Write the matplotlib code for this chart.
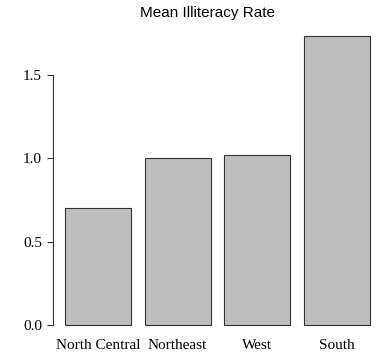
import numpy as np
import matplotlib
matplotlib.use("Agg")
import matplotlib.pyplot as plt

# mean illiteracy per region
regions = ["North Central", "Northeast", "West", "South"]
illiteracy = [0.70, 1.00, 1.0231, 1.7375]
yticks = [0.0, 0.5, 1.0, 1.5]

fig = plt.figure(figsize=(3.91, 3.61), dpi=100)
ax = fig.add_axes([0.135, 0.0676, 0.842, 0.866])

# R style barplot: width 1, space 0.2
x = 0.2 + np.arange(len(regions)) * 1.2 + 0.5
ax.bar(x, illiteracy, width=1.0, color="#bebebe", edgecolor="#333333", linewidth=0.8)

lo, hi = 0.2, len(regions) * 1.2
pad = 0.04 * (hi - lo)
ax.set_xlim(lo - pad, hi + pad)
ymax = max(illiteracy)
ax.set_ylim(-0.04 * ymax, ymax * 1.04)

for s in ["top", "right", "bottom"]:
    ax.spines[s].set_visible(False)
ax.spines["left"].set_bounds(0, 1.5)
ax.spines["left"].set_color("#333333")
ax.spines["left"].set_linewidth(0.8)

ax.set_yticks(yticks)
ax.set_yticklabels([f"{v:.1f}" for v in yticks], family="Liberation Serif", fontsize=11)
ax.tick_params(axis="y", length=4.3, width=0.8, color="#333333", pad=3.5)

ax.set_xticks(x)
ax.set_xticklabels(regions, family="Liberation Serif", fontsize=11)
ax.tick_params(axis="x", length=0, pad=2)

fig.text(207 / 391, 1 - 13 / 361, "Mean Illiteracy Rate", ha="center", va="center",
         family="Liberation Sans", fontsize=11)

fig.savefig("out.png", dpi=100)
